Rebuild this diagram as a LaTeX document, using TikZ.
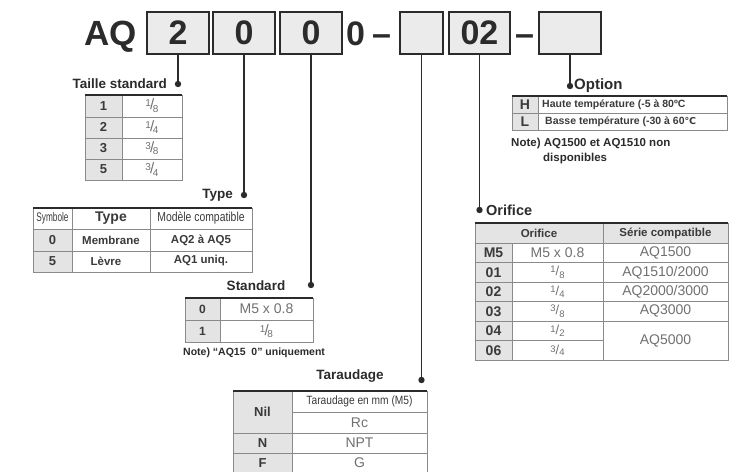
\documentclass[tikz,border=0pt]{standalone}
\usepackage{fontspec}
\setmainfont{Liberation Sans}
\newfontfamily\djv{DejaVu Sans}
\usepackage{graphicx}
\definecolor{ink}{HTML}{2B2B2B}
\definecolor{txt}{HTML}{3A3A3A}
\definecolor{soft}{HTML}{707070}
\definecolor{boxgray}{HTML}{EBEBEB}
\definecolor{cellgray}{HTML}{E4E4E4}
\definecolor{rule}{HTML}{8A8A8A}
\newcommand\myfr[2]{\raisebox{0.55ex}{\fontsize{10}{10}\selectfont#1}\kern-0.1em{\fontsize{15}{15}\selectfont/}\kern-0.12em\raisebox{-0.45ex}{\fontsize{10}{10}\selectfont#2}}
\newcommand\myfrs[2]{\raisebox{0.4ex}{\fontsize{9.5}{9.5}\selectfont#1}{\fontsize{13}{13}\selectfont/}\raisebox{-0.3ex}{\fontsize{9.5}{9.5}\selectfont#2}}
\newcommand\fs[1]{\fontsize{#1}{#1}\selectfont}
\tikzset{
  hbox/.style={draw=ink, line width=1.8pt, fill=boxgray, minimum height=42pt, inner sep=0pt, font=\fs{34}\bfseries, text=ink},
  htxt/.style={inner sep=0pt, font=\fs{35}\bfseries, text=ink, anchor=base west},
  conn/.style={draw=ink, line width=1.6pt},
  lbl/.style={inner sep=0pt, font=\fs{13.5}\bfseries, text=ink},
  cell/.style={inner sep=0pt, text=txt},
  grid/.style={draw=rule, line width=0.8pt},
  topr/.style={draw=ink, line width=2pt},
  gcell/.style={fill=cellgray},
}
\begin{document}
\begin{tikzpicture}[x=1pt,y=-1pt]
\useasboundingbox (0,0) rectangle (729,472);
% ---------- header ----------
\node[htxt] (aq) at (84,45) {AQ};
\node[hbox, minimum width=62pt] (b1) at (178,33) {2};
\node[hbox, minimum width=62pt] (b2) at (244,33) {0};
\node[hbox, minimum width=62pt] (b3) at (311,33) {0};
\node[htxt, font=\fs{34}\bfseries] (z0) at (346,45) {0};
\node[htxt, font=\fs{34}\bfseries] (z1) at (372,45) {–};
\node[hbox, minimum width=43pt] (b4) at (421.5,33) {};
\node[hbox, minimum width=61pt] (b5) at (479.5,33) {02};
\node[htxt, font=\fs{34}\bfseries] (dsh) at (515,45) {–};
\node[hbox, minimum width=62pt] (b6) at (570,33) {};
% ---------- connectors ----------
\coordinate (d1) at (178,84);
\coordinate (d2) at (244,195);
\coordinate (d3) at (311,285);
\coordinate (d4) at (421.5,380);
\coordinate (d5) at (479.5,210);
\coordinate (d6) at (570,86);
\foreach \b/\d in {b1/d1,b2/d2,b3/d3,b4/d4,b5/d5,b6/d6}{
  \draw[conn] (\b.south) -- (\d);
  \fill[ink] (\d) circle (3.2pt);
}
% ---------- Taille standard ----------
\node[lbl, anchor=east] (l1) at (167,84) {Taille standard};
\fill[gcell] (85,95) rectangle (122,180);
\draw[grid] (85,95) rectangle (182,180);
\draw[grid] (122,95) -- (122,180);
\foreach \y in {117,138,159}{\draw[grid] (85,\y) -- (182,\y);}
\draw[topr] (85,95) -- (182,95);
\foreach \k/\n/\d [count=\i] in {1/1/8,2/1/4,3/3/8,5/3/4}{
  \node[cell, font=\fs{13}\bfseries] (ts\i) at (103.5,{95+21.25*(\i-0.5)}) {\k};
  \node[cell, text=soft] (tf\i) at (152,{95+21.25*(\i-0.5)}) {\myfr{\n}{\d}};
}
% ---------- Type ----------
\node[lbl, anchor=east] (l2) at (233,195) {Type};
\fill[gcell] (33,229) rectangle (72,272);
\draw[grid] (33,208) rectangle (252,272);
\draw[grid] (72,208) -- (72,272) (150,208) -- (150,272);
\draw[grid] (33,229) -- (252,229) (33,251) -- (252,251);
\draw[topr] (33,208) -- (252,208);
\node[cell, font=\fs{12.5}] (ty0) at (52.5,218.5) {\scalebox{0.66}[1]{Symbole}};
\node[cell, font=\fs{14}\bfseries] (ty1) at (111,218.5) {Type};
\node[cell, font=\fs{13}] (ty2) at (201,218.5) {\scalebox{0.8}[1]{Modèle compatible}};
\node[cell, font=\fs{13}\bfseries] (ty3) at (52.5,240) {0};
\node[cell, font=\fs{11.5}\bfseries] (ty4) at (111,240) {Membrane};
\node[cell, font=\fs{11.5}\bfseries] (ty5) at (201,240) {AQ2 à AQ5};
\node[cell, font=\fs{13}\bfseries] (ty6) at (52.5,261.5) {5};
\node[cell, font=\fs{11.5}\bfseries] (ty7) at (106,261.5) {Lèvre};
\node[cell, font=\fs{11.5}\bfseries] (ty8) at (201,260.5) {AQ1 uniq.};
% ---------- Standard ----------
\node[lbl] (l3) at (256,286) {Standard};
\fill[gcell] (185,298) rectangle (220,342);
\draw[grid] (185,298) rectangle (313,342);
\draw[grid] (220,298) -- (220,342) (185,320) -- (313,320);
\draw[topr] (185,298) -- (313,298);
\node[cell, font=\fs{12}\bfseries] (st1) at (202.5,309) {0};
\node[cell, font=\fs{14}, text=soft] (st2) at (266.5,309) {M5 x 0.8};
\node[cell, font=\fs{12}\bfseries] (st3) at (202.5,331) {1};
\node[cell, text=soft] (st4) at (266.5,331) {\myfr{1}{8}};
\node[cell, anchor=west, font=\fs{10.5}\bfseries, text=ink] (stn) at (183,353) {Note) “AQ15\ \ 0” uniquement};
% ---------- Taraudage ----------
\node[lbl] (l4) at (350,376) {Taraudage};
\fill[gcell] (233,391) rectangle (292,472);
\draw[grid] (233,391) -- (233,472) (427,391) -- (427,472) (292,391) -- (292,472);
\draw[grid] (292,412) -- (427,412) (233,433) -- (427,433) (233,453) -- (427,453);
\draw[topr] (233,391) -- (427,391);
\node[cell, font=\fs{13}\bfseries] (ta1) at (262.5,412) {Nil};
\node[cell, font=\fs{12}] (ta2) at (359.5,401.5) {\scalebox{0.85}[1]{Taraudage en mm (M5)}};
\node[cell, font=\fs{14}, text=soft] (ta3) at (359.5,422.5) {Rc};
\node[cell, font=\fs{13}\bfseries] (ta4) at (262.5,443) {N};
\node[cell, font=\fs{14}, text=soft] (ta5) at (359.5,443) {NPT};
\node[cell, font=\fs{13}\bfseries] (ta6) at (262.5,463) {F};
\node[cell, font=\fs{14}, text=soft] (ta7) at (359.5,463) {G};
% ---------- Option ----------
\node[lbl, anchor=west, font=\fs{15}\bfseries] (l6) at (574,86) {Option};
\fill[gcell] (512,96) rectangle (538,130);
\draw[grid] (512,96) rectangle (727,130);
\draw[grid] (538,96) -- (538,130) (512,113) -- (727,113);
\draw[topr] (512,96) -- (727,96);
\node[cell, font=\fs{14}\bfseries] (op1) at (525,104.5) {H};
\node[cell, anchor=west, font=\fs{10.5}\bfseries] (op2) at (542,104.5) {Haute température (-5 à 80ºC};
\node[cell, font=\fs{14}\bfseries] (op3) at (525,121.5) {L};
\node[cell, anchor=west, font=\fs{10.5}\bfseries] (op4) at (545,121.5) {Basse température (-30 à 60{\djv\fs{9.5}℃}};
\node[cell, anchor=west, font=\fs{11.5}\bfseries, text=ink] (opn1) at (511,144) {Note) AQ1500 et AQ1510 non};
\node[cell, anchor=west, font=\fs{11.5}\bfseries, text=ink] (opn2) at (543,159) {disponibles};
% ---------- Orifice ----------
\node[lbl, anchor=west, font=\fs{14.5}\bfseries] (l5) at (486,210) {Orifice};
\fill[gcell] (475,223) rectangle (728,243);
\fill[gcell] (475,243) rectangle (512,360);
\draw[grid] (475,223) rectangle (728,360);
\draw[grid] (512,243) -- (512,360) (603,223) -- (603,360);
\foreach \y in {243,262.5,282,301.5,321}{\draw[grid] (475,\y) -- (728,\y);}
\draw[grid] (475,340.5) -- (603,340.5);
\draw[topr] (475,223) -- (728,223);
\node[cell, font=\fs{11.5}\bfseries] (oh1) at (539,233) {Orifice};
\node[cell, font=\fs{11.5}\bfseries] (oh2) at (665.5,233) {Série compatible};
\foreach \k/\v/\s [count=\i] in {M5/{M5 x 0.8}/AQ1500, 01/{\myfrs{1}{8}}/AQ1510\slash 2000, 02/{\myfrs{1}{4}}/AQ2000\slash 3000, 03/{\myfrs{3}{8}}/AQ3000}{
  \node[cell, font=\fs{14}\bfseries] (ok\i) at (493.5,{243+19.5*(\i-0.5)}) {\k};
  \node[cell, font=\fs{14}, text=soft] (ov\i) at (557.5,{243+19.5*(\i-0.5)}) {\v};
  \node[cell, font=\fs{14}, text=soft] (os\i) at (665.5,{243+19.5*(\i-0.5)}) {\s};
}
\node[cell, font=\fs{14}\bfseries] (ok5) at (493.5,330.75) {04};
\node[cell, text=soft] (ov5) at (557.5,330.75) {\myfrs{1}{2}};
\node[cell, font=\fs{14}\bfseries] (ok6) at (493.5,350.25) {06};
\node[cell, text=soft] (ov6) at (557.5,350.25) {\myfrs{3}{4}};
\node[cell, font=\fs{14}, text=soft] (os5) at (665.5,340.5) {AQ5000};
\end{tikzpicture}
\end{document}
